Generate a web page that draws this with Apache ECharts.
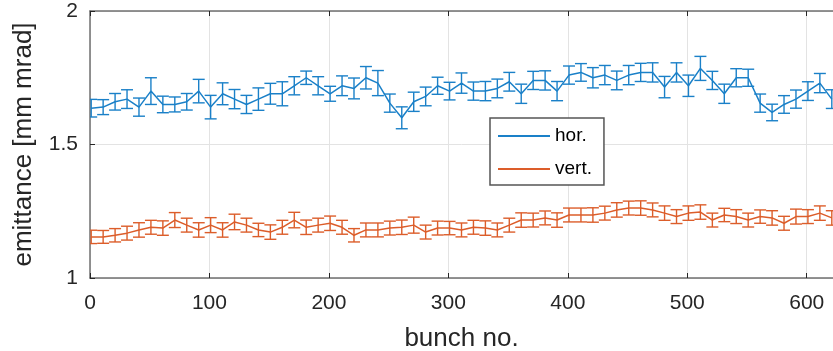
<!DOCTYPE html>
<html>
<head>
<meta charset="utf-8">
<script src="https://cdn.jsdelivr.net/npm/echarts@6/dist/echarts.min.js"></script>
<style>
  html, body { margin: 0; padding: 0; background: #fff; }
  #chart { width: 833px; height: 351px; }
</style>
</head>
<body>
<div id="chart"></div>
<script>
// bunch numbers
var bunch = [1, 11, 21, 31, 41, 51, 61, 71, 81, 91, 101, 111, 121, 131, 141, 151, 161, 171, 181, 191,
  201, 211, 221, 231, 241, 251, 261, 271, 281, 291, 301, 311, 321, 331, 341, 351, 361, 371, 381, 391,
  401, 411, 421, 431, 441, 451, 461, 471, 481, 491, 501, 511, 521, 531, 541, 551, 561, 571, 581, 591,
  601, 611, 621];

// horizontal emittance
var hor = [1.636, 1.64, 1.66, 1.67, 1.64, 1.70, 1.65, 1.65, 1.66, 1.70,
  1.64, 1.69, 1.67, 1.65, 1.67, 1.69, 1.69, 1.72, 1.75, 1.72,
  1.69, 1.72, 1.71, 1.75, 1.73, 1.655, 1.60, 1.66, 1.68, 1.72,
  1.70, 1.73, 1.70, 1.70, 1.71, 1.735, 1.69, 1.74, 1.74, 1.70,
  1.76, 1.77, 1.75, 1.76, 1.74, 1.76, 1.77, 1.77, 1.715, 1.77,
  1.72, 1.785, 1.74, 1.69, 1.75, 1.75, 1.655, 1.62, 1.65, 1.67,
  1.70, 1.73, 1.67];
var horErr = [0.033, 0.028, 0.031, 0.035, 0.034, 0.05, 0.031, 0.028, 0.031, 0.044,
  0.044, 0.041, 0.036, 0.034, 0.042, 0.039, 0.045, 0.034, 0.025, 0.034,
  0.028, 0.037, 0.039, 0.042, 0.047, 0.034, 0.041, 0.036, 0.035, 0.032,
  0.033, 0.038, 0.034, 0.036, 0.035, 0.035, 0.036, 0.034, 0.036, 0.036,
  0.034, 0.033, 0.038, 0.036, 0.035, 0.036, 0.034, 0.036, 0.04, 0.036,
  0.04, 0.045, 0.034, 0.036, 0.034, 0.032, 0.034, 0.031, 0.033, 0.034,
  0.035, 0.036, 0.035];

// vertical emittance
var vert = [1.154, 1.154, 1.16, 1.168, 1.18, 1.19, 1.187, 1.217, 1.198, 1.18,
  1.198, 1.18, 1.21, 1.198, 1.18, 1.172, 1.19, 1.217, 1.19, 1.198,
  1.205, 1.19, 1.16, 1.18, 1.18, 1.187, 1.19, 1.198, 1.172, 1.187,
  1.187, 1.18, 1.19, 1.187, 1.18, 1.198, 1.217, 1.217, 1.225, 1.217,
  1.236, 1.236, 1.236, 1.243, 1.255, 1.262, 1.262, 1.255, 1.243, 1.23,
  1.243, 1.247, 1.217, 1.236, 1.23, 1.217, 1.23, 1.225, 1.205, 1.23,
  1.23, 1.243, 1.225];
var vertErr = [0.025, 0.024, 0.025, 0.026, 0.027, 0.026, 0.027, 0.028, 0.026, 0.027,
  0.028, 0.027, 0.029, 0.026, 0.025, 0.027, 0.026, 0.029, 0.027, 0.026,
  0.027, 0.026, 0.025, 0.026, 0.026, 0.026, 0.027, 0.03, 0.026, 0.026,
  0.025, 0.026, 0.026, 0.027, 0.026, 0.026, 0.027, 0.026, 0.026, 0.027,
  0.026, 0.026, 0.027, 0.026, 0.027, 0.026, 0.027, 0.026, 0.027, 0.026,
  0.027, 0.027, 0.026, 0.025, 0.026, 0.026, 0.025, 0.027, 0.026, 0.028,
  0.026, 0.027, 0.027];

var xTicks = [0, 100, 200, 300, 400, 500, 600];
var yTicks = [1, 1.5, 2];

var blue = '#1a80c8', orange = '#dc5d2a';
var font = 'Liberation Sans, Arial, sans-serif';

function pairs(v) {
  return bunch.map(function (b, i) { return [b, v[i]]; });
}
function bars(v, e) {
  return bunch.map(function (b, i) { return [b, v[i] - e[i], v[i] + e[i]]; });
}
function errRender(color) {
  return function (params, api) {
    var x = api.value(0);
    var lo = api.coord([x, api.value(1)]);
    var hi = api.coord([x, api.value(2)]);
    var w = 6;
    var st = { stroke: color, lineWidth: 1.4 };
    return {
      type: 'group',
      children: [
        { type: 'line', shape: { x1: lo[0], y1: lo[1], x2: hi[0], y2: hi[1] }, style: st },
        { type: 'line', shape: { x1: lo[0] - w, y1: lo[1], x2: lo[0] + w, y2: lo[1] }, style: st },
        { type: 'line', shape: { x1: hi[0] - w, y1: hi[1], x2: hi[0] + w, y2: hi[1] }, style: st }
      ]
    };
  };
}

var chart = echarts.init(document.getElementById('chart'));
chart.setOption({
  animation: false,
  grid: { left: 90, top: 11, right: 0, bottom: 73, outerBoundsMode: 'none', containLabel: false },
  legend: {
    orient: 'vertical',
    left: 490, top: 118,
    padding: [7, 12, 5, 8],
    icon: 'rect',
    itemWidth: 52, itemHeight: 2, itemGap: 11,
    backgroundColor: '#fff',
    borderColor: '#555', borderWidth: 1.5, borderRadius: 0,
    textStyle: { fontFamily: font, fontSize: 19, color: '#000', lineHeight: 22 },
    data: ['hor.', 'vert.']
  },
  xAxis: [{
    type: 'value', min: 0, max: 622, interval: 100,
    name: 'bunch no.', nameLocation: 'middle', nameGap: 48,
    nameTextStyle: { fontFamily: font, fontSize: 26, color: '#262626' },
    axisLine: { lineStyle: { color: '#707070', width: 1.5 } },
    axisTick: { inside: true, length: 5, lineStyle: { color: '#262626' } },
    axisLabel: { fontFamily: font, fontSize: 21, color: '#262626', margin: 15, showMaxLabel: false,
      formatter: function (v) { return xTicks.indexOf(v) >= 0 ? String(v) : ''; } },
    splitLine: { show: true, lineStyle: { color: '#e3e3e3', width: 1 } }
  }, {
    type: 'value', position: 'top', min: 0, max: 622, interval: 100,
    axisLine: { show: true, lineStyle: { color: '#707070', width: 1.5 } },
    axisTick: { show: true, inside: true, length: 5, lineStyle: { color: '#262626' } },
    axisLabel: { show: false },
    splitLine: { show: false }
  }],
  yAxis: {
    type: 'value', min: 1, max: 2, interval: 0.5,
    name: 'emittance [mm mrad]', nameLocation: 'middle', nameGap: 53,
    nameTextStyle: { fontFamily: font, fontSize: 26, color: '#262626' },
    axisLine: { show: true, lineStyle: { color: '#707070', width: 1.5 } },
    axisTick: { show: true, inside: true, length: 5, lineStyle: { color: '#262626' } },
    axisLabel: { fontFamily: font, fontSize: 21, color: '#262626', margin: 12,
      formatter: function (v) { return yTicks.indexOf(v) >= 0 ? String(v) : ''; } },
    splitLine: { show: true, lineStyle: { color: '#e3e3e3', width: 1 } }
  },
  series: [
    { name: 'hor.', type: 'line', data: pairs(hor), showSymbol: false, symbol: 'none',
      lineStyle: { color: blue, width: 1.5 }, itemStyle: { color: blue }, z: 3 },
    { name: 'vert.', type: 'line', data: pairs(vert), showSymbol: false, symbol: 'none',
      lineStyle: { color: orange, width: 1.5 }, itemStyle: { color: orange }, z: 3 },
    { name: 'horErr', type: 'custom', data: bars(hor, horErr), renderItem: errRender(blue),
      encode: { x: 0, y: [1, 2] }, clip: true, z: 2 },
    { name: 'vertErr', type: 'custom', data: bars(vert, vertErr), renderItem: errRender(orange),
      encode: { x: 0, y: [1, 2] }, clip: true, z: 2 }
  ]
});
</script>
</body>
</html>
